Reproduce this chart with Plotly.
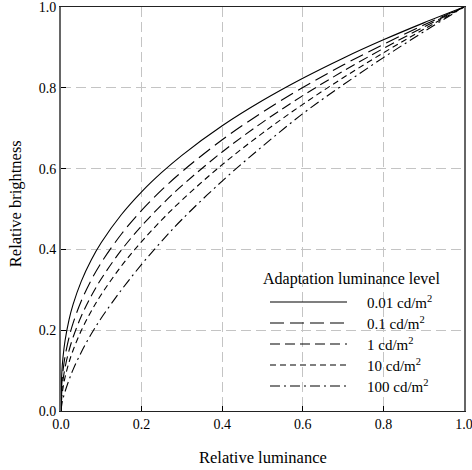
import plotly.graph_objects as go

# Relative luminance sample points
rel_lum = [0, 0.002, 0.005, 0.01, 0.02, 0.03, 0.05, 0.075, 0.1, 0.15, 0.2,
           0.25, 0.3, 0.4, 0.5, 0.6, 0.7, 0.8, 0.9, 1.0]

# Relative brightness for each adaptation level
b_001 = [0, 0.0943, 0.1335, 0.1738, 0.2262, 0.2638, 0.3203, 0.3737, 0.4169, 0.4863,
         0.5425, 0.5905, 0.6329, 0.7060, 0.7684, 0.8236, 0.8733, 0.9187, 0.9607, 1.0]
b_01 = [0, 0.0670, 0.0998, 0.1349, 0.1823, 0.2175, 0.2717, 0.3241, 0.3673, 0.4381,
        0.4966, 0.5472, 0.5923, 0.6713, 0.7397, 0.8007, 0.8563, 0.9075, 0.9552, 1.0]
b_1 = [0, 0.0491, 0.0766, 0.1072, 0.1500, 0.1825, 0.2339, 0.2847, 0.3273, 0.3985,
       0.4581, 0.5105, 0.5577, 0.6412, 0.7145, 0.7806, 0.8411, 0.8974, 0.9502, 1.0]
b_10 = [0, 0.0349, 0.0572, 0.0832, 0.1209, 0.1505, 0.1984, 0.2469, 0.2884, 0.3590,
        0.4193, 0.4730, 0.5219, 0.6097, 0.6878, 0.7590, 0.8248, 0.8865, 0.9447, 1.0]
b_100 = [0, 0.0166, 0.0303, 0.0479, 0.0771, 0.1024, 0.1448, 0.1905, 0.2301, 0.2998,
         0.3628, 0.4205, 0.4740, 0.5692, 0.6552, 0.7360, 0.8073, 0.8747, 0.9387, 1.0]

series_labels = ["0.01 cd/m<sup>2</sup>", "0.1 cd/m<sup>2</sup>", "1 cd/m<sup>2</sup>",
                 "10 cd/m<sup>2</sup>", "100 cd/m<sup>2</sup>"]
series_values = [b_001, b_01, b_1, b_10, b_100]
dashes = ["solid", "14px,6px", "10px,5px", "6px,4px", "10px,4px,2px,4px"]

tick_vals = [0, 0.2, 0.4, 0.6, 0.8, 1.0]
tick_text = ["0.0", "0.2", "0.4", "0.6", "0.8", "1.0"]

FONT = "Liberation Serif, Times New Roman, serif"

fig = go.Figure()
for lab, vals, d in zip(series_labels, series_values, dashes):
    fig.add_trace(go.Scatter(x=rel_lum, y=vals, mode="lines", name=lab,
                             line=dict(color="black", width=1.1, dash=d, shape="spline"),
                             showlegend=False))

# custom legend (samples + labels) in paper coordinates
leg_rows = [(411 - y) / 404 for y in [302, 323, 344, 365, 386]]
shapes = []
annotations = []
for lab, d, yy in zip(series_labels, dashes, leg_rows):
    shapes.append(dict(type="line", xref="paper", yref="paper",
                       x0=0.5186, x1=0.7097, y0=yy, y1=yy,
                       line=dict(color="black", width=1.1, dash=d)))
    annotations.append(dict(xref="paper", yref="paper", x=0.7543, y=yy,
                            text=lab, showarrow=False, xanchor="left", yanchor="middle",
                            font=dict(family=FONT, size=15, color="black")))
annotations.append(dict(xref="paper", yref="paper", x=0.722, y=(411 - 279) / 404,
                        text="Adaptation luminance level", showarrow=False,
                        xanchor="center", yanchor="middle",
                        font=dict(family=FONT, size=16, color="black")))
# axis titles
annotations.append(dict(xref="paper", yref="paper", x=0.5, y=(411 - 457) / 404,
                        text="Relative luminance", showarrow=False,
                        xanchor="center", yanchor="middle",
                        font=dict(family=FONT, size=16.5, color="black")))
annotations.append(dict(xref="paper", yref="paper", x=(15 - 61) / 403, y=0.512,
                        text="Relative brightness", showarrow=False, textangle=-90,
                        xanchor="center", yanchor="middle",
                        font=dict(family=FONT, size=16.5, color="black")))

axis_common = dict(range=[0, 1], tickvals=tick_vals, ticktext=tick_text,
                   ticks="inside", ticklen=5, tickcolor="black", tickwidth=1,
                   showgrid=True, gridcolor="#c4c4c4", gridwidth=1, griddash="10px,5px",
                   zeroline=False, showline=True, mirror=True,
                   ticklabeloverflow="allow", automargin=False,
                   tickfont=dict(family=FONT, size=14, color="black"))

fig.update_layout(
    width=472, height=470,
    margin=dict(l=61, r=8, t=7, b=59),
    paper_bgcolor="white", plot_bgcolor="white",
    showlegend=False,
    xaxis=dict(**axis_common, linecolor="#222222", linewidth=1.3),
    yaxis=dict(**axis_common, linecolor="#666666", linewidth=2),
    shapes=shapes, annotations=annotations,
    font=dict(family=FONT),
)

fig.write_html("out.html", config={"displayModeBar": False})

# remove the browser's default page margin so the figure sits at the window origin
with open("out.html", "r", encoding="utf-8") as f:
    html = f.read()
html = html.replace("<head>", "<head><style>html,body{margin:0;padding:0;overflow:hidden;}</style>", 1)
with open("out.html", "w", encoding="utf-8") as f:
    f.write(html)
